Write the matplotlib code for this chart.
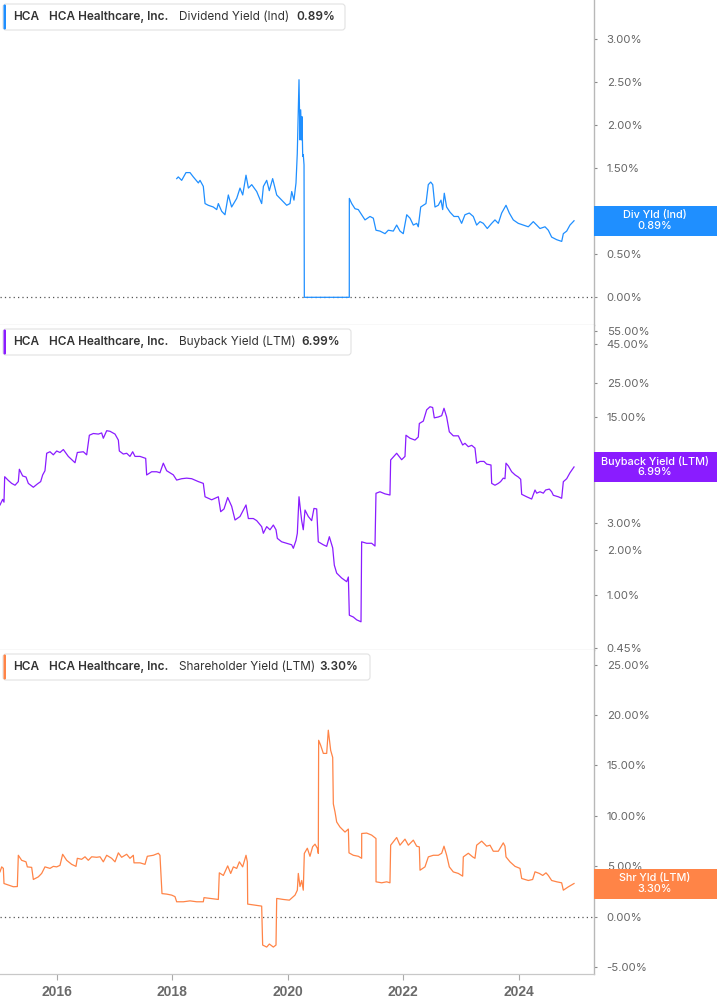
import matplotlib
matplotlib.use("Agg")
import matplotlib.pyplot as plt
from matplotlib.patches import FancyBboxPatch, Rectangle
from matplotlib.transforms import IdentityTransform

W, H = 717, 1005

# dividend yield (Ind), %
div_x = [2018.08, 2018.107, 2018.166, 2018.24, 2018.31, 2018.367, 2018.454, 2018.483, 2018.54, 2018.57,
         2018.626, 2018.713, 2018.772, 2018.80, 2018.858, 2018.915, 2018.973, 2019.03, 2019.118, 2019.175,
         2019.222, 2019.279, 2019.32, 2019.378, 2019.464, 2019.55, 2019.58, 2019.637, 2019.682, 2019.74,
         2019.81, 2019.897, 2019.983, 2020.04, 2020.07, 2020.109, 2020.144, 2020.166, 2020.196, 2020.213,
         2020.225, 2020.242, 2020.248, 2020.26, 2020.27, 2020.283, 2020.288, 2021.066, 2021.067, 2021.108,
         2021.165, 2021.222, 2021.28, 2021.338, 2021.425, 2021.482, 2021.528, 2021.597, 2021.684, 2021.741,
         2021.828, 2021.886, 2021.943, 2022.0, 2022.06, 2022.117, 2022.174, 2022.233, 2022.26, 2022.302,
         2022.347, 2022.393, 2022.433, 2022.475, 2022.51, 2022.549, 2022.606, 2022.653, 2022.682, 2022.71,
         2022.75, 2022.809, 2022.878, 2022.953, 2023.01, 2023.068, 2023.143, 2023.212, 2023.27, 2023.328,
         2023.385, 2023.454, 2023.53, 2023.587, 2023.645, 2023.703, 2023.778, 2023.835, 2023.904, 2023.99,
         2024.077, 2024.164, 2024.25, 2024.309, 2024.366, 2024.453, 2024.51, 2024.568, 2024.655, 2024.742,
         2024.77, 2024.828, 2024.885, 2024.955]
div_y = [1.38, 1.40, 1.36, 1.45, 1.45, 1.40, 1.33, 1.36, 1.29, 1.09,
         1.07, 1.05, 1.02, 1.09, 1.00, 0.96, 1.19, 1.05, 1.15, 1.27,
         1.19, 1.42, 1.27, 1.31, 1.23, 1.09, 1.29, 1.36, 1.24, 1.38,
         1.19, 1.13, 1.07, 1.09, 1.23, 1.13, 1.33, 1.67, 2.53, 1.83,
         2.18, 1.83, 2.10, 1.64, 1.66, 1.54, 0.0, 0.0, 1.15, 1.09,
         1.03, 1.02, 0.96, 0.90, 0.94, 0.92, 0.78, 0.77, 0.74, 0.78,
         0.77, 0.84, 0.77, 0.74, 0.96, 0.92, 0.84, 0.86, 0.82, 1.05,
         1.07, 1.09, 1.31, 1.34, 1.31, 1.05, 1.07, 1.13, 1.02, 1.21,
         1.05, 0.99, 0.94, 0.94, 0.86, 0.96, 0.98, 0.94, 0.84, 0.88,
         0.86, 0.80, 0.86, 0.90, 0.86, 0.98, 1.07, 0.98, 0.90, 0.86,
         0.84, 0.82, 0.88, 0.84, 0.80, 0.82, 0.78, 0.70, 0.67, 0.65,
         0.74, 0.77, 0.84, 0.89]

# buyback yield (LTM), %
bb_x = [2015.022, 2015.068, 2015.091, 2015.103, 2015.166, 2015.224, 2015.282, 2015.339, 2015.357, 2015.414,
        2015.472, 2015.512, 2015.599, 2015.668, 2015.726, 2015.76, 2015.8, 2015.83, 2015.887, 2015.945,
        2016.003, 2016.06, 2016.118, 2016.204, 2016.32, 2016.36, 2016.464, 2016.522, 2016.568, 2016.637,
        2016.724, 2016.781, 2016.81, 2016.868, 2016.925, 2017.012, 2017.07, 2017.087, 2017.156, 2017.214,
        2017.271, 2017.318, 2017.358, 2017.445, 2017.543, 2017.56, 2017.646, 2017.733, 2017.79, 2017.848,
        2017.906, 2017.964, 2018.021, 2018.079, 2018.166, 2018.252, 2018.339, 2018.454, 2018.54, 2018.57,
        2018.685, 2018.8, 2018.841, 2018.898, 2018.962, 2019.031, 2019.089, 2019.175, 2019.279, 2019.32,
        2019.406, 2019.464, 2019.55, 2019.579, 2019.637, 2019.694, 2019.752, 2019.798, 2019.821, 2019.896,
        2019.983, 2020.069, 2020.098, 2020.144, 2020.167, 2020.196, 2020.242, 2020.27, 2020.3, 2020.357,
        2020.415, 2020.455, 2020.502, 2020.53, 2020.617, 2020.675, 2020.721, 2020.779, 2020.807, 2020.848,
        2020.934, 2021.021, 2021.05, 2021.067, 2021.136, 2021.194, 2021.269, 2021.28, 2021.367, 2021.453,
        2021.511, 2021.528, 2021.597, 2021.684, 2021.77, 2021.782, 2021.886, 2021.972, 2022.03, 2022.047,
        2022.117, 2022.203, 2022.26, 2022.278, 2022.347, 2022.405, 2022.463, 2022.509, 2022.537, 2022.607,
        2022.665, 2022.705, 2022.751, 2022.797, 2022.866, 2022.953, 2023.028, 2023.068, 2023.126, 2023.184,
        2023.241, 2023.27, 2023.328, 2023.397, 2023.443, 2023.518, 2023.53, 2023.587, 2023.645, 2023.685,
        2023.731, 2023.76, 2023.778, 2023.818, 2023.876, 2023.934, 2023.991, 2024.032, 2024.049, 2024.135,
        2024.222, 2024.28, 2024.309, 2024.366, 2024.424, 2024.464, 2024.528, 2024.568, 2024.597, 2024.683,
        2024.741, 2024.77, 2024.828, 2024.885, 2024.955]
bb_y = [3.93, 4.28, 4.10, 6.03, 5.70, 5.45, 5.30, 5.60, 6.75, 6.10,
        6.00, 5.45, 5.14, 5.40, 5.60, 6.19, 6.60, 8.60, 8.80, 8.40,
        8.90, 8.70, 9.10, 8.20, 7.45, 8.70, 8.80, 8.40, 11.3, 11.6,
        11.5, 11.7, 10.8, 12.1, 12.0, 11.5, 10.5, 8.90, 8.50, 8.60,
        8.20, 8.80, 8.20, 8.20, 7.96, 6.19, 6.50, 6.50, 6.40, 7.40,
        6.60, 6.40, 6.20, 5.73, 5.85, 5.90, 5.85, 5.60, 5.45, 4.45,
        4.25, 4.45, 3.55, 3.70, 4.40, 3.85, 3.13, 3.30, 3.93, 3.20,
        3.20, 3.10, 2.83, 2.56, 2.83, 2.70, 2.90, 2.70, 2.37, 2.25,
        2.20, 2.15, 2.04, 2.30, 2.56, 4.45, 3.10, 2.70, 3.64, 3.30,
        3.10, 3.73, 3.70, 2.25, 2.15, 2.10, 2.43, 2.05, 1.58, 1.40,
        1.30, 1.23, 1.32, 0.74, 0.72, 0.69, 0.67, 2.25, 2.20, 2.20,
        2.11, 4.69, 4.80, 4.65, 4.57, 7.77, 8.60, 7.80, 8.20, 11.3,
        10.8, 10.5, 11.0, 13.5, 14.0, 16.6, 17.4, 17.2, 14.7, 14.9,
        15.2, 17.0, 14.9, 11.9, 11.2, 11.2, 9.75, 10.0, 9.50, 9.70,
        9.30, 7.40, 7.60, 7.60, 7.30, 7.20, 5.45, 5.30, 5.45, 5.60,
        5.90, 5.85, 7.40, 7.10, 6.50, 6.20, 6.00, 5.80, 4.62, 4.45,
        4.30, 4.93, 4.70, 4.80, 4.70, 4.93, 5.00, 4.80, 4.55, 4.45,
        4.35, 5.59, 5.85, 6.40, 6.99]

# shareholder yield (LTM), %
sh_x = [2015.022, 2015.051, 2015.08, 2015.091, 2015.166, 2015.253, 2015.322, 2015.339, 2015.397, 2015.472,
        2015.495, 2015.57, 2015.599, 2015.685, 2015.743, 2015.8, 2015.887, 2015.945, 2016.003, 2016.06,
        2016.106, 2016.176, 2016.262, 2016.337, 2016.36, 2016.435, 2016.493, 2016.55, 2016.608, 2016.695,
        2016.753, 2016.81, 2016.868, 2016.954, 2017.012, 2017.07, 2017.127, 2017.214, 2017.271, 2017.329,
        2017.341, 2017.445, 2017.531, 2017.571, 2017.675, 2017.762, 2017.79, 2017.825, 2017.906, 2017.993,
        2018.05, 2018.079, 2018.194, 2018.31, 2018.425, 2018.54, 2018.552, 2018.685, 2018.8, 2018.817,
        2018.887, 2018.962, 2019.014, 2019.06, 2019.118, 2019.164, 2019.221, 2019.279, 2019.302, 2019.308,
        2019.435, 2019.55, 2019.567, 2019.637, 2019.683, 2019.752, 2019.798, 2019.81, 2019.925, 2020.029,
        2020.127, 2020.167, 2020.184, 2020.213, 2020.242, 2020.27, 2020.288, 2020.34, 2020.386, 2020.432,
        2020.473, 2020.513, 2020.53, 2020.536, 2020.571, 2020.617, 2020.675, 2020.703, 2020.744, 2020.779,
        2020.79, 2020.819, 2020.848, 2020.905, 2020.992, 2021.05, 2021.061, 2021.136, 2021.223, 2021.28,
        2021.281, 2021.367, 2021.453, 2021.528, 2021.529, 2021.626, 2021.713, 2021.77, 2021.782, 2021.886,
        2021.943, 2022.03, 2022.088, 2022.174, 2022.232, 2022.278, 2022.29, 2022.376, 2022.434, 2022.52,
        2022.607, 2022.665, 2022.705, 2022.751, 2022.797, 2022.866, 2022.953, 2023.028, 2023.039, 2023.126,
        2023.201, 2023.241, 2023.27, 2023.357, 2023.443, 2023.501, 2023.558, 2023.645, 2023.731, 2023.76,
        2023.778, 2023.847, 2023.934, 2024.02, 2024.049, 2024.164, 2024.239, 2024.28, 2024.355, 2024.413,
        2024.47, 2024.51, 2024.568, 2024.655, 2024.741, 2024.77, 2024.856, 2024.955]
sh_y = [4.46, 4.95, 4.80, 3.30, 3.15, 2.98, 3.00, 6.10, 5.60, 5.45,
        4.95, 4.90, 3.70, 3.96, 4.30, 4.95, 4.80, 5.00, 4.95, 5.10,
        6.20, 5.60, 5.20, 5.00, 5.80, 5.70, 5.95, 5.60, 5.95, 5.90,
        5.95, 5.45, 6.10, 5.80, 5.45, 6.34, 5.90, 6.20, 5.80, 6.10,
        5.35, 5.35, 5.20, 6.00, 6.10, 6.30, 6.10, 2.30, 2.25, 2.15,
        2.00, 1.49, 1.49, 1.58, 1.49, 1.49, 1.90, 1.80, 1.72, 4.36,
        4.10, 5.05, 4.30, 4.95, 4.80, 5.45, 4.95, 6.10, 5.45, 1.26,
        1.15, 1.06, -2.80, -3.00, -2.70, -3.00, -2.80, 1.82, 1.72, 1.65,
        2.15, 2.64, 4.30, 3.00, 3.60, 2.64, 6.28, 6.80, 6.00, 6.95,
        7.20, 6.80, 6.28, 17.5, 17.0, 16.2, 16.2, 18.5, 16.5, 15.8,
        11.2, 10.4, 9.40, 8.90, 8.40, 8.70, 6.34, 6.10, 6.00, 5.80,
        8.26, 8.30, 8.10, 7.76, 3.47, 3.37, 3.47, 3.37, 7.10, 7.86,
        7.10, 7.70, 7.10, 7.60, 7.00, 6.93, 4.62, 4.95, 5.94, 6.10,
        6.10, 6.30, 7.00, 6.10, 4.95, 4.45, 4.30, 4.03, 5.94, 6.30,
        5.94, 5.80, 7.10, 7.50, 7.00, 7.10, 6.50, 6.50, 7.33, 7.00,
        5.94, 5.45, 5.00, 4.80, 3.80, 3.60, 3.70, 4.46, 4.30, 4.10,
        4.36, 4.10, 3.60, 3.47, 3.37, 2.64, 2.97, 3.30]

year_ticks = [2016, 2018, 2020, 2022, 2024]
div_ticks = [0.0, 0.5, 1.0, 1.5, 2.0, 2.5, 3.0]
bb_ticks = [0.45, 1, 2, 3, 6, 8, 15, 25, 45, 55]
sh_ticks = [-5, 0, 5, 10, 15, 20, 25]

company = "HCA Healthcare, Inc."
panels = [
    dict(x=div_x, y=div_y, color="#1f8fff", name="Dividend Yield (Ind)", short="Div Yld (Ind)",
         ticks=div_ticks, ylim=(-0.322, 3.457), log=False, zero=True, top=0, bot=325),
    dict(x=bb_x, y=bb_y, color="#8a1cff", name="Buyback Yield (LTM)", short="Buyback Yield (LTM)",
         ticks=bb_ticks, ylim=(0.437, 60.0), log=True, zero=False, top=325, bot=650),
    dict(x=sh_x, y=sh_y, color="#ff8447", name="Shareholder Yield (LTM)", short="Shr Yld (LTM)",
         ticks=sh_ticks, ylim=(-5.67, 26.45), log=False, zero=True, top=650, bot=974),
]

fig = plt.figure(figsize=(W / 100, H / 100), dpi=100)
px = IdentityTransform()
RIGHT = 593.5
FONT = ["Inter", "DejaVu Sans"]

for i, p in enumerate(panels):
    ax = fig.add_axes([0, 1 - p["bot"] / H, RIGHT / W, (p["bot"] - p["top"]) / H])
    ax.plot(p["x"], p["y"], color=p["color"], lw=0.9, zorder=3)
    if p["zero"]:
        ax.axhline(0, color="#555555", lw=0.9, ls=(0, (1, 2.5)), zorder=2)
    if p["log"]:
        ax.set_yscale("log")
        ax.minorticks_off()
    ax.set_xlim(2015.022, 2025.292)
    ax.set_ylim(*p["ylim"])
    ax.set_yticks(p["ticks"])
    ax.set_yticklabels([f"{t:.2f}%" for t in p["ticks"]], fontfamily=FONT)
    ax.yaxis.tick_right()
    ax.tick_params(axis="y", length=2.5, width=0.8, color="#888888", labelcolor="#666666",
                   labelsize=8.2, pad=7)
    for s in ["top", "left"]:
        ax.spines[s].set_visible(False)
    ax.spines["right"].set_color("#b8b8b8")
    ax.spines["right"].set_linewidth(1.0)
    ax.spines["bottom"].set_color("#c8c8c8")
    ax.spines["bottom"].set_linewidth(0.9)
    if i == 2:
        ax.set_xticks(year_ticks)
        ax.set_xticklabels([str(y) for y in year_ticks],
                           fontfamily=["Liberation Sans", "DejaVu Sans"], fontweight="bold")
        ax.tick_params(axis="x", length=4, width=0.8, color="#aaaaaa", labelcolor="#6a6a6a",
                       labelsize=10, pad=4)
    else:
        ax.set_xticks([])

    # legend box at top-left
    t = p["top"]
    leg_w = {0: 342, 1: 348, 2: 367}[i]
    fig.add_artist(FancyBboxPatch((3, H - t - 30), leg_w, 26, boxstyle="round,pad=0,rounding_size=3",
                                  transform=px, fc="white", ec="#e2e2e2", lw=0.8, zorder=5))
    fig.add_artist(FancyBboxPatch((3.5, H - t - 29.5), 2.5, 25, boxstyle="round,pad=0,rounding_size=1.2",
                                  transform=px, fc=p["color"], ec="none", zorder=6))
    ty = H - t - 17
    last = p["y"][-1]
    fig.text(13.3, ty, "HCA", transform=px, fontfamily=FONT, fontweight="semibold", fontsize=8.5,
             color="#333333", va="center", zorder=7)
    fig.text(49.3, ty, company, transform=px, fontfamily=FONT, fontweight="semibold", fontsize=8.5,
             color="#333333", va="center", zorder=7)
    fig.text(179.3, ty, p["name"], transform=px, fontfamily=FONT, fontsize=8.5,
             color="#333333", va="center", zorder=7)
    val_x = {0: 296, 1: 301.7, 2: 319}[i]
    fig.text(val_x, ty, f"{last:.2f}%", transform=px, fontfamily=FONT, fontweight="semibold",
             fontsize=8.5, color="#333333", va="center", zorder=7)

    # value tag on the right axis
    _, yc = ax.transData.transform((p["x"][-1], last))
    fig.add_artist(Rectangle((RIGHT + 0.5, yc - 15), W - RIGHT, 30, transform=px,
                             fc=p["color"], ec="none", zorder=8))
    fig.text(655, yc + 5.5, p["short"], transform=px, fontfamily=FONT, fontweight="medium",
             fontsize=7.8, color="white", ha="center", va="center", zorder=9)
    fig.text(655, yc - 5, f"{last:.2f}%", transform=px, fontfamily=FONT, fontweight="medium",
             fontsize=7.8, color="white", ha="center", va="center", zorder=9)

fig.savefig("out.png", dpi=100)
